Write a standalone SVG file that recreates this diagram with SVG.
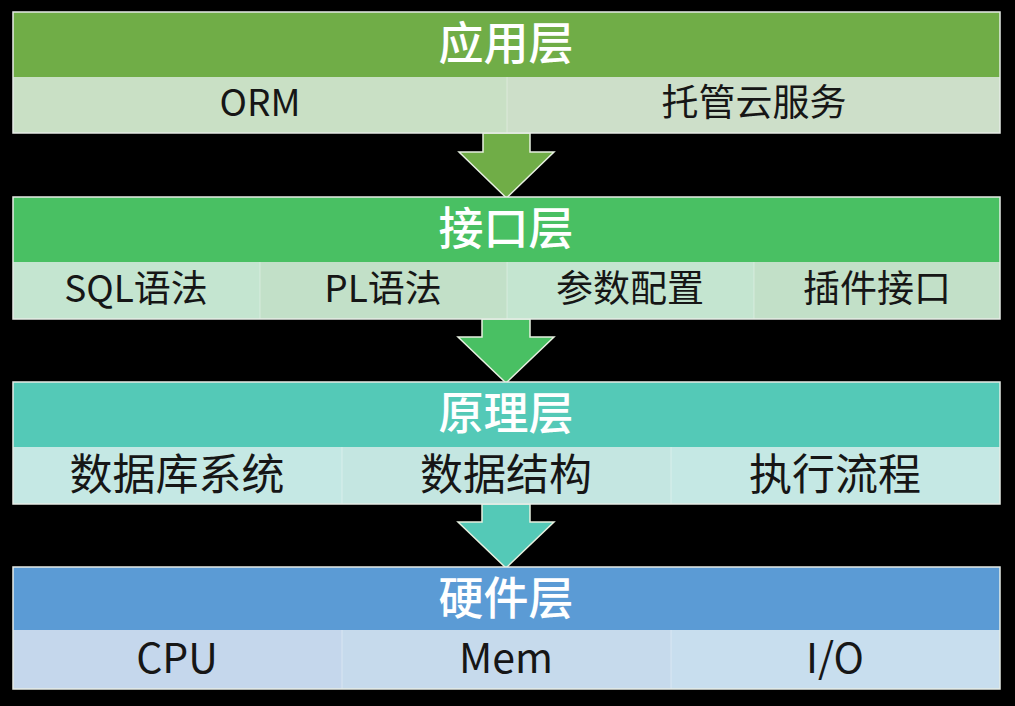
<svg xmlns="http://www.w3.org/2000/svg" width="1015" height="706" viewBox="0 0 1015 706">
<style>
.hd{font-family:"Noto Sans CJK SC","Noto Sans",sans-serif;font-size:45px;font-weight:500;fill:#ffffff;text-anchor:middle}
.sb{font-family:"Noto Sans CJK SC","Noto Sans",sans-serif;font-size:37px;font-weight:400;fill:#161616;text-anchor:middle}
.sb3{font-family:"Noto Sans CJK SC","Noto Sans",sans-serif;font-size:43px;font-weight:400;fill:#161616;text-anchor:middle}
.sb4{font-family:"Noto Sans CJK SC","Noto Sans",sans-serif;font-size:41px;font-weight:400;fill:#161616;text-anchor:middle}
.frame{fill:none;stroke:#e6ece6;stroke-width:1.5}
.div{stroke:#ffffff;stroke-opacity:0.35;stroke-width:1}
.arr{stroke:#e6f0e0;stroke-width:1.5;stroke-linejoin:miter}
</style>
<rect width="1015" height="706" fill="#000000"/>
<g id="connectors">
<polygon class="arr" fill="#70AD47" points="483,133 530,133 530,152 554,152 506.5,198 459,152 483,152"/>
<polygon class="arr" fill="#49C063" points="482,319 530,319 530,337 554,337 506,383 458,337 482,337"/>
<polygon class="arr" fill="#54C9B7" points="482,504 530,504 530,522 554,522 506,568 458,522 482,522"/>
</g>
<g id="layer-app">
<rect x="13" y="12" width="987" height="65" fill="#70AD47"/>
<rect x="13" y="77" width="494" height="56" fill="#C9E0C5"/>
<rect x="507" y="77" width="493" height="56" fill="#CDDFC9"/>
<line class="div" x1="507" y1="77" x2="507" y2="133"/>
<rect class="frame" x="13" y="12" width="987" height="121"/>
<text class="hd" x="506" y="60">应用层</text>
<text class="sb" x="260" y="116">ORM</text>
<text class="sb" x="754" y="116">托管云服务</text>
</g>
<g id="layer-interface">
<rect x="13" y="197" width="987" height="65" fill="#49C063"/>
<rect x="13" y="262" width="247" height="57" fill="#C4E5D0"/>
<rect x="260" y="262" width="247" height="57" fill="#C2E0C8"/>
<rect x="507" y="262" width="247" height="57" fill="#C4E5D0"/>
<rect x="754" y="262" width="246" height="57" fill="#C2E0C8"/>
<line class="div" x1="260" y1="262" x2="260" y2="319"/>
<line class="div" x1="507" y1="262" x2="507" y2="319"/>
<line class="div" x1="754" y1="262" x2="754" y2="319"/>
<rect class="frame" x="13" y="197" width="987" height="122"/>
<text class="hd" x="506" y="245">接口层</text>
<text class="sb" x="136" y="302">SQL语法</text>
<text class="sb" x="383" y="302">PL语法</text>
<text class="sb" x="630" y="302">参数配置</text>
<text class="sb" x="877" y="302">插件接口</text>
</g>
<g id="layer-principle">
<rect x="13" y="382" width="987" height="65" fill="#54C9B7"/>
<rect x="13" y="447" width="329" height="57" fill="#C5E8E4"/>
<rect x="342" y="447" width="329" height="57" fill="#C4E6E1"/>
<rect x="671" y="447" width="329" height="57" fill="#C5E8E4"/>
<line class="div" x1="342" y1="447" x2="342" y2="504"/>
<line class="div" x1="671" y1="447" x2="671" y2="504"/>
<rect class="frame" x="13" y="382" width="987" height="122"/>
<text class="hd" x="506" y="430">原理层</text>
<text class="sb3" x="177" y="490">数据库系统</text>
<text class="sb3" x="506" y="490">数据结构</text>
<text class="sb3" x="835" y="490">执行流程</text>
</g>
<g id="layer-hardware">
<rect x="13" y="567" width="987" height="63" fill="#5B9BD5"/>
<rect x="13" y="630" width="329" height="59" fill="#C5D7EC"/>
<rect x="342" y="630" width="329" height="59" fill="#C6DAEC"/>
<rect x="671" y="630" width="329" height="59" fill="#C8DEEE"/>
<line class="div" x1="342" y1="630" x2="342" y2="689"/>
<line class="div" x1="671" y1="630" x2="671" y2="689"/>
<rect class="frame" x="13" y="567" width="987" height="122"/>
<text class="hd" x="506" y="615">硬件层</text>
<text class="sb4" x="177" y="673">CPU</text>
<text class="sb4" x="506" y="673">Mem</text>
<text class="sb4" x="835" y="673">I/O</text>
</g>
</svg>
